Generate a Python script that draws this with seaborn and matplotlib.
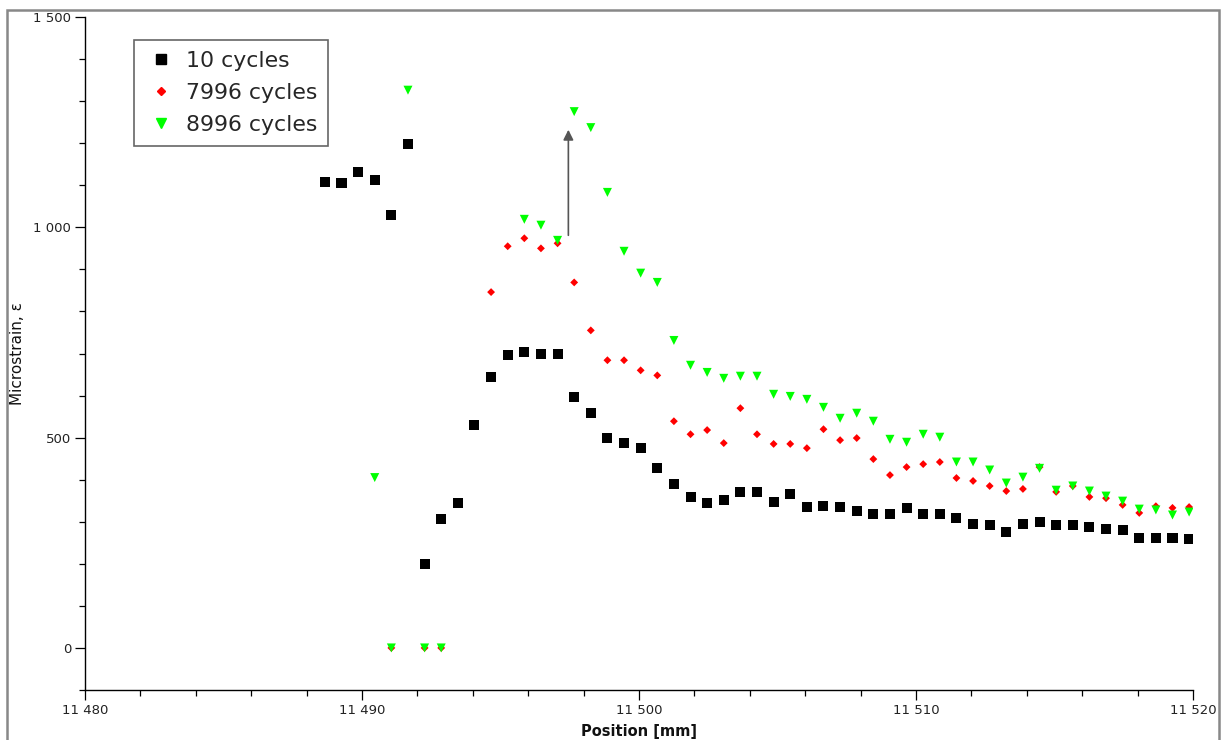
import numpy as np
import pandas as pd
import matplotlib
matplotlib.use("Agg")
import matplotlib.pyplot as plt
from matplotlib.ticker import MultipleLocator, FuncFormatter
from matplotlib.patches import Rectangle
from matplotlib.lines import Line2D
import seaborn as sns

nan = np.nan

positions = [11488.66, 11489.26, 11489.86, 11490.46, 11491.06, 11491.66, 11492.26, 11492.86, 11493.46, 11494.06,
             11494.66, 11495.26, 11495.86, 11496.46, 11497.06, 11497.66, 11498.26, 11498.86, 11499.46, 11500.06,
             11500.66, 11501.26, 11501.86, 11502.46, 11503.06, 11503.66, 11504.26, 11504.86, 11505.46, 11506.06,
             11506.66, 11507.26, 11507.86, 11508.46, 11509.06, 11509.66, 11510.26, 11510.86, 11511.46, 11512.06,
             11512.66, 11513.26, 11513.86, 11514.46, 11515.06, 11515.66, 11516.26, 11516.86, 11517.46, 11518.06,
             11518.66, 11519.26, 11519.86]

cycles_10 = [1107, 1105, 1131, 1112, 1029, 1197, 200, 306, 344, 530,
             644, 696, 703, 698, 698, 596, 558, 499, 487, 475,
             428, 390, 359, 344, 352, 371, 371, 347, 366, 335,
             337, 335, 325, 318, 318, 333, 318, 318, 309, 295,
             292, 276, 295, 299, 292, 292, 287, 283, 280, 261,
             261, 261, 259]

cycles_7996 = [nan, nan, nan, nan, 0, nan, 0, 0, nan, nan,
               846, 955, 974, 950, 962, 869, 755, 684, 684, 660,
               648, 539, 508, 518, 487, 570, 508, 485, 485, 475,
               520, 494, 499, 449, 411, 430, 437, 442, 404, 397,
               385, 373, 378, 430, 371, 385, 359, 356, 340, 321,
               337, 333, 335]

cycles_8996 = [nan, nan, nan, 405, 0, 1326, 0, 0, nan, nan,
               nan, nan, 1019, 1005, 969, 1275, 1237, 1083, 943, 891,
               869, 731, 672, 655, 641, 646, 646, 603, 598, 591,
               572, 546, 558, 539, 496, 489, 508, 501, 442, 442,
               423, 392, 406, 427, 375, 385, 373, 361, 349, 330,
               328, 316, 323]

series_labels = ["10 cycles", "7996 cycles", "8996 cycles"]
arrow_start = (11497.45, 981)
arrow_end = (11497.45, 1232)

sns.set_theme(style="white")
plt.rcParams["font.family"] = ["DejaVu Sans"]

fig = plt.figure(figsize=(12.26, 7.40), dpi=100)
ax = fig.add_axes([85 / 1226, 1 - 690 / 740, (1193 - 85) / 1226, (690 - 17) / 740])

df = pd.DataFrame({"pos": positions, "c10": cycles_10, "c7996": cycles_7996, "c8996": cycles_8996})

sns.scatterplot(data=df, x="pos", y="c10", ax=ax, marker="s", s=52, color="black",
                edgecolor="none", linewidth=0, zorder=3)
sns.scatterplot(data=df, x="pos", y="c7996", ax=ax, marker="D", s=16, color="#ff0000",
                edgecolor="none", linewidth=0, zorder=3)
sns.scatterplot(data=df, x="pos", y="c8996", ax=ax, marker="v", s=42, color="#00ff00",
                edgecolor="none", linewidth=0, zorder=4)

ax.annotate("", xy=arrow_end, xytext=arrow_start,
            arrowprops=dict(arrowstyle="-|>,head_length=0.5,head_width=0.25",
                            color="#555555", lw=1.2, shrinkA=0, shrinkB=0), zorder=5)

ax.set_xlim(11480, 11520)
ax.set_ylim(-100, 1500)
ax.xaxis.set_major_locator(MultipleLocator(10))
ax.xaxis.set_minor_locator(MultipleLocator(2))
ax.yaxis.set_major_locator(MultipleLocator(500))
ax.yaxis.set_minor_locator(MultipleLocator(100))
fmt = FuncFormatter(lambda v, p: f"{v:,.0f}".replace(",", " "))
ax.xaxis.set_major_formatter(fmt)
ax.yaxis.set_major_formatter(fmt)

for side in ["top", "right"]:
    ax.spines[side].set_visible(False)
for side in ["left", "bottom"]:
    ax.spines[side].set_color("black")
    ax.spines[side].set_linewidth(1.0)

ax.tick_params(axis="both", which="major", direction="out", length=7, width=0.9,
               color="black", labelsize=9.5, labelcolor="#222222", pad=3,
               bottom=True, left=True)
ax.tick_params(axis="both", which="minor", direction="out", length=4, width=0.9,
               color="black", bottom=True, left=True)

ax.set_xlabel("Position [mm]", fontsize=10.5, fontweight="bold", color="#111111")
ax.set_ylabel("Microstrain, ε", fontsize=11, color="#111111")
ax.xaxis.set_label_coords(0.5, -0.05)
ax.yaxis.set_label_coords(-0.054, 0.5)

handles = [
    Line2D([], [], linestyle="none", marker="s", markersize=7, color="black"),
    Line2D([], [], linestyle="none", marker="D", markersize=4, color="#ff0000"),
    Line2D([], [], linestyle="none", marker="v", markersize=7, color="#00ff00"),
]
leg = ax.legend(handles, series_labels, loc="upper left",
                bbox_to_anchor=((134 - 85) / 1108, (690 - 40) / 673),
                borderaxespad=0, fontsize=15.8, frameon=True, fancybox=False,
                handletextpad=0.35, handlelength=1.5, borderpad=0.5, labelspacing=0.55)
leg.get_frame().set_edgecolor("#666666")
leg.get_frame().set_linewidth(1.2)
leg.get_frame().set_alpha(1)

frame = Rectangle((7 / 1226, -0.05), (1219 - 7) / 1226, 1 - 10 / 740 + 0.05,
                  transform=fig.transFigure, fill=False, edgecolor="#888888",
                  linewidth=1.8, clip_on=False)
fig.patches.append(frame)

fig.savefig("out.png", dpi=100, facecolor="white")
